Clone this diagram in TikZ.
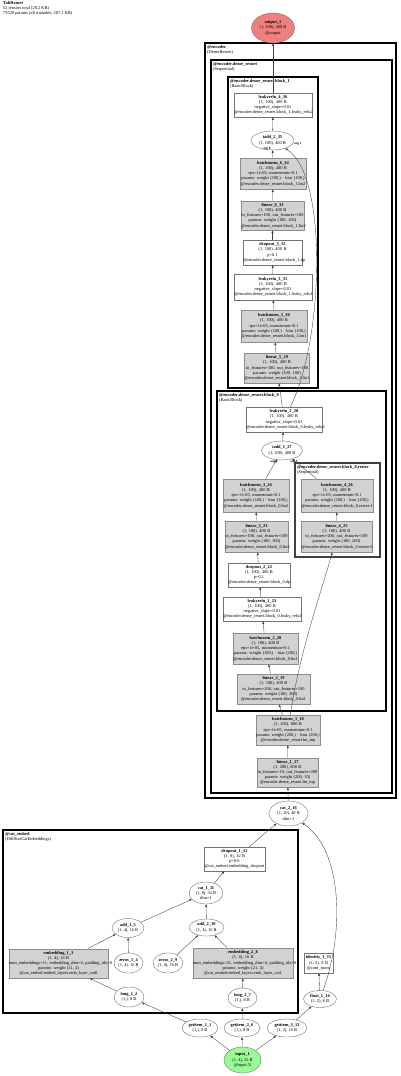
\documentclass[tikz,border=0pt]{standalone}
\usepackage{fontspec}
\setmainfont{Liberation Serif}
\usetikzlibrary{shapes.geometric,arrows.meta}
\definecolor{outc}{HTML}{F08080}
\definecolor{inc}{HTML}{98FB98}
\begin{document}
\begin{tikzpicture}[x=1pt,y=-1pt,
  base/.style={font=\fontsize{4.4}{5.2}\selectfont, align=center, inner sep=0pt},
  wbox/.style 2 args={base, rectangle, draw=black!55, line width=0.4pt, fill=white,
     minimum width=#1pt, text width=#1pt, minimum height=#2pt},
  pbox/.style 2 args={base, rectangle, draw=black!45, line width=0.9pt, fill=gray!35,
     minimum width=#1pt, text width=#1pt, minimum height=#2pt},
  ell/.style 2 args={base, ellipse, draw=black!55, line width=0.4pt, fill=white,
     minimum width=#1pt, minimum height=#2pt},
  edge/.style={draw=black!75, line width=0.35pt, -{Triangle[length=2.6pt,width=2pt]}},
  modA/.style={draw=black, line width=1.6pt},
  modB/.style={draw=black, line width=1.3pt},
  modC/.style={draw=black!75, line width=1.1pt},
  mlab/.style={base, anchor=north west, align=left},
  elab/.style={font=\fontsize{3.3}{4}\selectfont\bfseries, inner sep=0pt}
]
\useasboundingbox (0,0) rectangle (400,1076);

% header
\node[anchor=north west, align=left, inner sep=0pt, font=\fontsize{4.4}{4.9}\selectfont] (hdr) at (3,1.2)
  {\textbf{TabResnet}\\52 tensors total (29.2 KB)\\73528 params (all trainable, 287.2 KB)};

% module boxes
\draw[modA] (205,43) rectangle (396,798);
\node[mlab] (encl) at (207,45) {\textbf{@encoder}\\(DenseResnet)};
\draw[modA] (211,60) rectangle (392,793);
\node[mlab] (drl) at (213,62) {\textbf{@encoder.dense\_resnet}\\(Sequential)};
\draw[modB] (228,77) rectangle (318,388);
\node[mlab] (b1l) at (230,79) {\textbf{@encoder.dense\_resnet.block\_1}\\(BasicBlock)};
\draw[modB] (217,391) rectangle (386,711);
\node[mlab] (b0l) at (219,393) {\textbf{@encoder.dense\_resnet.block\_0}\\(BasicBlock)};
\draw[modC] (295,463) rectangle (380,557);
\node[mlab] (rsl) at (297,465) {\textbf{@encoder.dense\_resnet.block\_0.resize}\\(Sequential)};
\draw[modA] (3,830) rectangle (298,1013);
\node[mlab] (cel) at (5,832) {\textbf{@cat\_embed}\\(DiffSizeCatEmbeddings)};

% encoder nodes
\node[ell={43}{30}, fill=outc] (output1) at (273,28) {\textbf{output\_1}\\(1,~100),~400~B\\@output};
\node[wbox={78}{24}] (lr436) at (273,105) {\textbf{leakyrelu\_4\_36}\\(1,~100),~400~B\\negative\_slope=0.01\\\mbox{@encoder.dense\_resnet.block\_1.leaky\_relu2}};
\node[ell={43}{19}] (iadd235) at (272.5,140.5) {\textbf{iadd\_2\_35}\\(1,~100),~400~B};
\node[pbox={66}{31}] (bn634) at (273,173.5) {\textbf{batchnorm\_6\_34}\\(1,~100),~400~B\\eps=1e-05,~momentum=0.1\\\mbox{params:~weight~(100,)~·~bias~(100,)}\\\mbox{@encoder.dense\_resnet.block\_1.bn2}};
\node[pbox={63}{29}] (lin633) at (272.5,215.5) {\textbf{linear\_6\_33}\\(1,~100),~400~B\\\mbox{in\_features=100,~out\_features=100}\\params:~weight~(100,~100)\\\mbox{@encoder.dense\_resnet.block\_1.lin2}};
\node[wbox={59}{25}] (dp332) at (272.5,252.5) {\textbf{dropout\_3\_32}\\(1,~100),~400~B\\p=0.1\\\mbox{@encoder.dense\_resnet.block\_1.dp}};
\node[wbox={78}{26}] (lr331) at (273,287) {\textbf{leakyrelu\_3\_31}\\(1,~100),~400~B\\negative\_slope=0.01\\\mbox{@encoder.dense\_resnet.block\_1.leaky\_relu1}};
\node[pbox={66}{32}] (bn530) at (274,326) {\textbf{batchnorm\_5\_30}\\(1,~100),~400~B\\eps=1e-05,~momentum=0.1\\\mbox{params:~weight~(100,)~·~bias~(100,)}\\\mbox{@encoder.dense\_resnet.block\_1.bn1}};
\node[pbox={65}{30}] (lin529) at (277,368) {\textbf{linear\_5\_29}\\(1,~100),~400~B\\\mbox{in\_features=100,~out\_features=100}\\params:~weight~(100,~100)\\\mbox{@encoder.dense\_resnet.block\_1.lin1}};

\node[wbox={76}{25}] (lr228) at (284,419.5) {\textbf{leakyrelu\_2\_28}\\(1,~100),~400~B\\negative\_slope=0.01\\\mbox{@encoder.dense\_resnet.block\_0.leaky\_relu2}};
\node[ell={41}{19}] (iadd127) at (282,450.5) {\textbf{iadd\_1\_27}\\(1,~100),~400~B};
\node[pbox={66}{33}] (bn324) at (256,495.5) {\textbf{batchnorm\_3\_24}\\(1,~100),~400~B\\eps=1e-05,~momentum=0.1\\\mbox{params:~weight~(100,)~·~bias~(100,)}\\\mbox{@encoder.dense\_resnet.block\_0.bn2}};
\node[pbox={72}{33}] (bn426) at (337,495.5) {\textbf{batchnorm\_4\_26}\\(1,~100),~400~B\\eps=1e-05,~momentum=0.1\\\mbox{params:~weight~(100,)~·~bias~(100,)}\\\mbox{@encoder.dense\_resnet.block\_0.resize.1}};
\node[pbox={63}{31}] (lin323) at (256.5,536.5) {\textbf{linear\_3\_23}\\(1,~100),~400~B\\\mbox{in\_features=100,~out\_features=100}\\params:~weight~(100,~100)\\\mbox{@encoder.dense\_resnet.block\_0.lin2}};
\node[pbox={71}{31}] (lin425) at (336.5,536.5) {\textbf{linear\_4\_25}\\(1,~100),~400~B\\\mbox{in\_features=200,~out\_features=100}\\params:~weight~(100,~200)\\\mbox{@encoder.dense\_resnet.block\_0.resize.0}};
\node[wbox={62}{24}] (dp222) at (259,575) {\textbf{dropout\_2\_22}\\(1,~100),~400~B\\p=0.1\\\mbox{@encoder.dense\_resnet.block\_0.dp}};
\node[wbox={78}{24}] (lr121) at (262,609) {\textbf{leakyrelu\_1\_21}\\(1,~100),~400~B\\negative\_slope=0.01\\\mbox{@encoder.dense\_resnet.block\_0.leaky\_relu1}};
\node[pbox={65}{31}] (bn220) at (265.5,648.5) {\textbf{batchnorm\_2\_20}\\(1,~100),~400~B\\eps=1e-05,~momentum=0.1\\\mbox{params:~weight~(100,)~·~bias~(100,)}\\\mbox{@encoder.dense\_resnet.block\_0.bn1}};
\node[pbox={73}{30}] (lin219) at (273.5,689) {\textbf{linear\_2\_19}\\(1,~100),~400~B\\\mbox{in\_features=200,~out\_features=100}\\params:~weight~(100,~200)\\\mbox{@encoder.dense\_resnet.block\_0.lin1}};

\node[pbox={64}{30}] (bn118) at (288,730) {\textbf{batchnorm\_1\_18}\\(1,~200),~800~B\\eps=1e-05,~momentum=0.1\\\mbox{params:~weight~(200,)~·~bias~(200,)}\\\mbox{@encoder.dense\_resnet.bn\_inp}};
\node[pbox={61}{29}] (lin117) at (287.5,772.5) {\textbf{linear\_1\_17}\\(1,~200),~800~B\\\mbox{in\_features=10,~out\_features=200}\\params:~weight~(200,~10)\\\mbox{@encoder.dense\_resnet.lin\_inp}};
\node[ell={39}{25}] (cat216) at (288.5,813.5) {\textbf{cat\_2\_16}\\(1,~10),~40~B\\dim=1};

% cat_embed nodes
\node[wbox={61}{24}] (dp112) at (234.5,859) {\textbf{dropout\_1\_12}\\(1,~8),~32~B\\p=0.0\\\mbox{@cat\_embed.embedding\_dropout}};
\node[ell={34}{22}] (cat111) at (206,893) {\textbf{cat\_1\_11}\\(1,~8),~32~B\\dim=1};
\node[ell={35}{17}] (add210) at (206.5,927.5) {\textbf{add\_2\_10}\\(1,~4),~16~B};
\node[ell={32}{19}] (add15) at (128,928) {\textbf{add\_1\_5}\\(1,~4),~16~B};
\node[pbox={99}{29}] (emb13) at (58.5,963.5) {\textbf{embedding\_1\_3}\\(1,~4),~16~B\\\mbox{num\_embeddings=11,~embedding\_dim=4,~padding\_idx=0}\\params:~weight~(11,~4)\\\mbox{@cat\_embed.embed\_layers.emb\_layer\_cat0}};
\node[ell={29}{20}] (zeros14) at (128.5,963) {\textbf{zeros\_1\_4}\\(1,~4),~16~B};
\node[ell={30}{20}] (zeros29) at (168,963) {\textbf{zeros\_2\_9}\\(1,~4),~16~B};
\node[pbox={100}{30}] (emb28) at (243,963) {\textbf{embedding\_2\_8}\\(1,~4),~16~B\\\mbox{num\_embeddings=21,~embedding\_dim=4,~padding\_idx=0}\\params:~weight~(21,~4)\\\mbox{@cat\_embed.embed\_layers.emb\_layer\_cat1}};
\node[ell={30}{20}] (long12) at (129,997) {\textbf{long\_1\_2}\\(1,),~8~B};
\node[ell={29}{20}] (long27) at (242.5,998) {\textbf{long\_2\_7}\\(1,),~8~B};
\node[ell={36}{18}] (gi11) at (200,1028) {\textbf{getitem\_1\_1}\\(1,),~8~B};
\node[ell={36}{18}] (gi26) at (242,1028) {\textbf{getitem\_2\_6}\\(1,),~8~B};
\node[ell={40}{18}] (gi313) at (287,1028) {\textbf{getitem\_3\_13}\\(1,~2),~16~B};
\node[ell={37}{26}, fill=inc] (input1) at (242.5,1060) {\textbf{input\_1}\\(1,~4),~32~B\\@input.X};
\node[wbox={29}{20}] (id115) at (318.5,963) {\mbox{\textbf{identity\_1\_15}}\\(1,~2),~8~B\\\mbox{@cont\_norm}};
\node[ell={33}{17}] (float114) at (320,999) {\textbf{float\_1\_14}\\(1,~2),~8~B};

% edges
\draw[edge] (lr436) -- (output1);
\draw[edge] (iadd235) -- (lr436);
\draw[edge] (bn634) -- (iadd235);
\draw[edge] (lin633) -- (bn634);
\draw[edge] (dp332) -- (lin633);
\draw[edge] (lr331) -- (dp332);
\draw[edge] (bn530) -- (lr331);
\draw[edge] (lin529) -- (bn530);
\draw[edge] (lr228) -- (lin529);
\draw[edge] (lr228) .. controls (324,340) and (328,175) .. (iadd235);
\draw[edge] (iadd127) -- (lr228);
\draw[edge] (bn324) -- (iadd127);
\draw[edge] (bn426) -- (iadd127);
\draw[edge] (lin323) -- (bn324);
\draw[edge] (lin425) -- (bn426);
\draw[edge] (dp222) -- (lin323);
\draw[edge] (lr121) -- (dp222);
\draw[edge] (bn220) -- (lr121);
\draw[edge] (lin219) -- (bn220);
\draw[edge] (bn118) -- (lin219);
\draw[edge] (bn118) .. controls (300,650) and (322,590) .. (lin425);
\draw[edge] (lin117) -- (bn118);
\draw[edge] (cat216) -- (lin117);
\draw[edge] (dp112) -- (cat216);
\draw[edge] (cat111) -- (dp112);
\draw[edge] (add210) -- (cat111);
\draw[edge] (add15) -- (cat111);
\draw[edge] (emb13) -- (add15);
\draw[edge] (zeros14) -- (add15);
\draw[edge] (zeros29) -- (add210);
\draw[edge] (emb28) -- (add210);
\draw[edge] (long12) -- (emb13);
\draw[edge] (long27) -- (emb28);
\draw[edge] (gi11) -- (long12);
\draw[edge] (gi26) -- (long27);
\draw[edge] (input1) -- (gi11);
\draw[edge] (input1) -- (gi26);
\draw[edge] (input1) -- (gi313);
\draw[edge] (gi313) -- (float114);
\draw[edge] (float114) -- (id115);
\draw[edge] (float114) .. controls (345,930) and (342,850) .. (cat216);

% edge labels
\node[elab] (l1) at (267,148.5) {arg 0};
\node[elab] (l2) at (298,144) {arg 1};
\node[elab] (l3) at (274,462) {arg 0};
\node[elab] (l4) at (294,462) {arg 1};
\end{tikzpicture}
\end{document}
